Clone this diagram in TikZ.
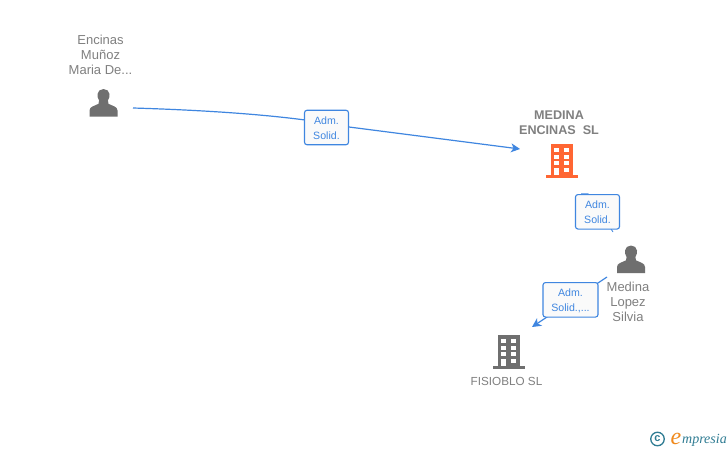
\documentclass[tikz,border=0pt]{standalone}
\usepackage{fontspec}
\setmainfont{Liberation Sans}
\newfontfamily\logofont{Liberation Serif}
\usetikzlibrary{arrows.meta}
\definecolor{linkblue}{HTML}{3F86E0}
\definecolor{icongrey}{HTML}{6F6F6F}
\definecolor{txtgrey}{HTML}{808080}
\definecolor{brandorange}{HTML}{FF6633}
\definecolor{logoteal}{HTML}{2F7C93}
\definecolor{logoorange}{HTML}{F08A1D}
\definecolor{boxfill}{HTML}{FAFAFA}
\newcommand{\lowerline}{\rule{0pt}{9pt}}
\tikzset{
  nodetext/.style={text=txtgrey,font=\fontsize{13}{15}\selectfont,align=center,inner sep=0pt},
  boldtext/.style={text=txtgrey,font=\fontsize{12.6}{15}\selectfont\bfseries,align=center,inner sep=0pt},
  smalltext/.style={text=txtgrey,font=\fontsize{11.7}{15}\selectfont,align=center,inner sep=0pt},
  iconbox/.style={minimum width=30pt,minimum height=32pt,inner sep=0pt},
  linkbox/.style={draw=linkblue,line width=1.1pt,rounded corners=2.5pt,fill=boxfill,text=linkblue,
    font=\fontsize{10.6}{15}\selectfont,align=center,inner sep=0pt,minimum height=34.5pt},
  link/.style={draw=linkblue,line width=1.2pt},
  tip/.style={-{Stealth[length=9pt,width=9pt,inset=2.5pt]}},
  person/.pic={
    \fill[icongrey] (-14,13.5) -- (-14,7.5) .. controls (-14,3.5) and (-9,3) .. (-5,0.8)
      .. controls (-4,-0.2) and (-4,-1.5) .. (-4.4,-2.5)
      .. controls (-6,-5) and (-6.2,-7) .. (-6,-9)
      .. controls (-5.8,-12) and (-3,-14) .. (0,-14)
      .. controls (3,-14) and (5.8,-12) .. (6,-9)
      .. controls (6.2,-7) and (6,-5) .. (4.4,-2.5)
      .. controls (4,-1.5) and (4,-0.2) .. (5,0.8)
      .. controls (9,3) and (14,3.5) .. (14,7.5) -- (14,13.5) -- cycle;
  },
  building/.pic={
    \fill[pic actions] (-11,-17) rectangle (11,15);
    \fill[pic actions] (-16,14) rectangle (16,16.7);
    \foreach \yy in {-13,-6.5,0} {
      \fill[white] (-7.5,\yy) rectangle (-3,\yy+4);
      \fill[white] (2.5,\yy) rectangle (7,\yy+4);
    }
    \fill[white] (-7.5,7) rectangle (-3,14);
    \fill[white] (2.5,7) rectangle (7,11);
  }
}
\begin{document}
\begin{tikzpicture}[x=1pt,y=-1pt]
\useasboundingbox (0,0) rectangle (728,450);
\fill[white] (0,0) rectangle (728,450);

% entities
\node[iconbox] (p1) at (103.5,103) {};
\pic at (p1.center) {person};
\node[nodetext,anchor=north] (p1t) at (100.5,31.5) {\rule{0pt}{12.5pt}Encinas\\Muñoz\\Maria De...};

\node[boldtext,anchor=north] (b1t) at (559,106.5) {\rule{0pt}{12.5pt}MEDINA\\ENCINAS\ \ SL};
\node[iconbox] (b1) at (561.7,161) {};
\pic[fill=brandorange] at (b1.center) {building};

\node[iconbox] (p2) at (631,259.5) {};
\pic at (p2.center) {person};
\node[nodetext,anchor=north] (p2t) at (628,278.5) {\rule{0pt}{12.5pt}Medina\\Lopez\\Silvia};

\node[iconbox] (b2) at (508.5,352) {};
\pic[fill=icongrey] at (b2.center) {building};
\node[smalltext,anchor=north] (b2t) at (506.5,377) {FISIOBLO SL};

% connector ends
\coordinate (c1a) at (133,108);
\coordinate (c1b) at (305,120);
\coordinate (c1c) at (349,127);
\coordinate (c1d) at (520,149);
\coordinate (c2a) at (581,193.7);
\coordinate (c2b) at (588,193.7);
\coordinate (c2c) at (613,232);
\coordinate (c3a) at (607,277);
\coordinate (c3b) at (532,327);

% connectors
\draw[link] (c1a) .. controls (200,110) and (260,114) .. (c1b);
\draw[link,tip] (c1c) -- (c1d);
\draw[link,line width=.8pt] (c2a) -- (c2b) -- (c2c);
\draw[link,tip] (c3a) -- (c3b);

% link labels
\node[linkbox,minimum width=44pt] (l1) at (326.5,127.5) {\lowerline Adm.\\Solid.};
\node[linkbox,minimum width=44pt] (l2) at (597.5,211.8) {\lowerline Adm.\\Solid.};
\node[linkbox,minimum width=55pt] (l3) at (570.5,299.8) {\lowerline Adm.\\Solid.,...};

% logo
\node[draw=logoteal,circle,line width=1.3pt,minimum size=13.5pt,inner sep=0pt,text=logoteal,font=\fontsize{11}{11}\selectfont\bfseries] (logoc) at (657.5,439) {c};
\node[anchor=base west,inner sep=0pt,text=logoorange,font=\logofont\itshape\fontsize{24}{24}\selectfont] (logoe) at (670.5,444.5) {e};
\node[anchor=base west,inner sep=0pt,text=logoteal,font=\logofont\itshape\fontsize{14}{15}\selectfont] (logot) at (682,443.5) {mpresia};
\end{tikzpicture}
\end{document}
